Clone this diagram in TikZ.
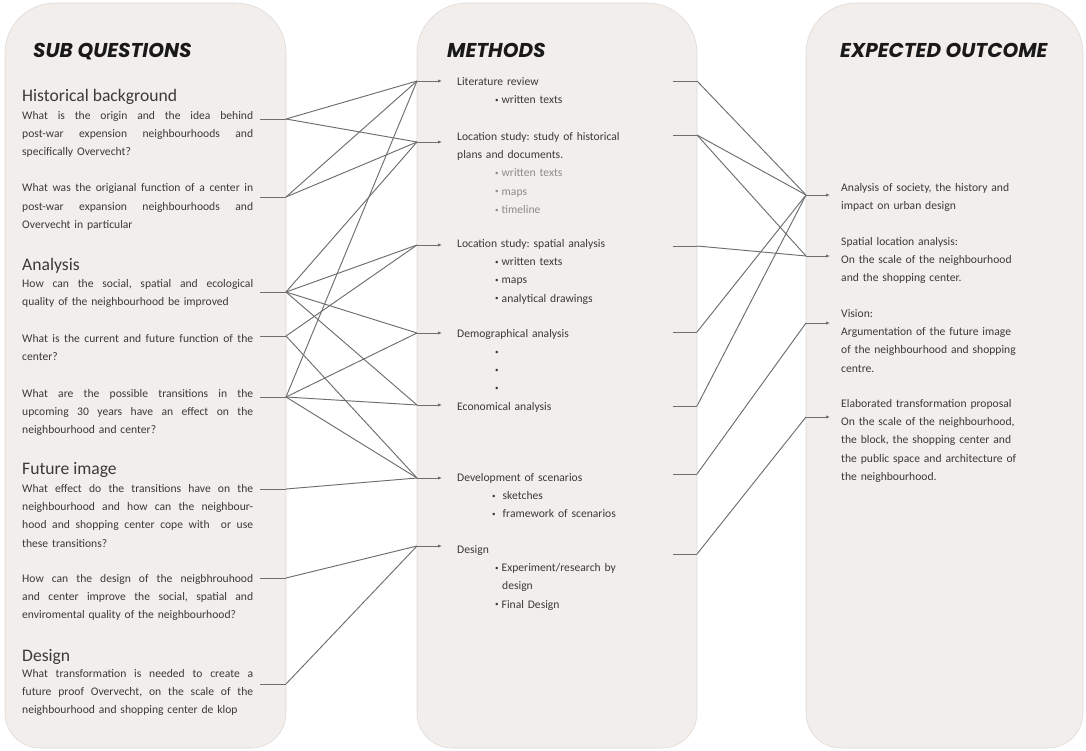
\documentclass[tikz,border=0pt]{standalone}
\usepackage{fontspec}
\setmainfont{Carlito}
\newfontfamily\headfont{Poppins}
\usetikzlibrary{arrows.meta}

\definecolor{panelgrey}{RGB}{242,238,236}
\definecolor{edgegrey}{RGB}{222,218,216}
\definecolor{linegrey}{RGB}{110,110,110}
\definecolor{textgrey}{RGB}{58,58,58}
\definecolor{softgrey}{RGB}{140,140,140}
\definecolor{headgrey}{RGB}{25,25,25}

\newcommand{\dotb}{\raisebox{1.2pt}{\fontsize{7}{7}\selectfont\textbullet}}
\newcommand{\itm}[1]{\hspace*{38pt}\dotb\hspace{3pt}#1}
\newcommand{\jl}[1]{\makebox[231pt][s]{\spaceskip=0.3em plus 1fil\relax #1}\\}
\newcommand{\panel}[2]{\draw[panel] (#1,53) arc[start angle=180,end angle=270,radius=50] -- (#2-50,3)
  arc[start angle=270,end angle=360,radius=50] -- (#2,713)
  arc[start angle=0,end angle=90,radius=35] -- (#1+35,748)
  arc[start angle=90,end angle=180,radius=35] -- cycle;}

\begin{document}
\frenchspacing
\begin{tikzpicture}[x=1pt,y=-1pt]
\tikzstyle{panel}=[draw=edgegrey,fill=panelgrey,line width=0.6pt]
\tikzstyle{head}=[anchor=base west,inner sep=0,text=headgrey,font=\headfont\bfseries\itshape\fontsize{20}{22}\selectfont]
\tikzstyle{topic}=[anchor=base west,inner sep=0,text=textgrey,font=\fontsize{17.6}{19}\selectfont]
\tikzstyle{body}=[anchor=north west,inner sep=0,align=left,text=textgrey,font=\fontsize{11.6}{18.3}\selectfont\frenchspacing,execute at begin node={\noindent\strut}]
\tikzstyle{quest}=[body,text width=231pt]
\tikzstyle{meth}=[body,text width=225pt]
\tikzstyle{outc}=[body,text width=240pt]
\tikzstyle{link}=[draw=linegrey,line width=0.95pt]
\tikzstyle{arr}=[link,-{Latex[length=4pt,width=3.4pt]}]
\useasboundingbox (0,0) rectangle (1086,751);

\panel{5}{286}
\panel{417}{697}
\panel{806}{1083}

\node[head] (subq) at (33,58) {SUB QUESTIONS};
\node[head] (meths) at (447,58) {METHODS};
\node[head] (outcs) at (840,58) {EXPECTED OUTCOME};

% sub questions
\node[topic] (hist) at (22,101.5) {Historical background};
\node[quest] (q1t) at (22,106.2) {\jl{What is the origin and the idea behind}\jl{post-war expension neighbourhoods and}specifically Overvecht?};
\node[quest] (q2t) at (22,178.7) {\jl{What was the origianal function of a center in}\jl{post-war expansion neighbourhoods and}Overvecht in particular};
\node[topic] (anal) at (22,270.7) {Analysis};
\node[quest] (q3t) at (22,274.2) {\jl{How can the social, spatial and ecological}quality of the neighbourhood be improved};
\node[quest] (q4t) at (22,329.2) {\jl{What is the current and future function of the}center?};
\node[quest] (q5t) at (22,384.2) {\jl{What are the possible transitions in the}\jl{upcoming 30 years have an effect on the}neighbourhood and center?};
\node[topic] (fut) at (22,474) {Future image};
\node[quest] (q6t) at (22,479.2) {\jl{What effect do the transitions have on the}\jl{neighbourhood and how can the neighbour-}\jl{hood and shopping center cope with \ or use}these transitions?};
\node[quest] (q7t) at (22,569.2) {\jl{How can the design of the neigbhrouhood}\jl{and center improve the social, spatial and}enviromental quality of the neighbourhood?};
\node[topic] (des) at (22,661) {Design};
\node[quest] (q8t) at (22,664.2) {\jl{What transformation is needed to create a}\jl{future proof Overvecht, on the scale of the}neighbourhood and shopping center de klop};

% methods
\node[meth] (lit) at (457,72.2) {Literature review\\\itm{written texts}};
\node[meth] (hplan) at (457,127.2) {Location study: study of historical\\plans and documents.\\
  \textcolor{softgrey}{\itm{written texts}}\\\textcolor{softgrey}{\itm{maps}}\\\textcolor{softgrey}{\itm{timeline}}};
\node[meth] (spat) at (457,234.2) {Location study: spatial analysis\\\itm{written texts}\\\itm{maps}\\\itm{analytical drawings}};
\node[meth] (demo) at (457,324.2) {Demographical analysis\\\itm{}\\\itm{}\\\itm{}};
\node[meth] (econ) at (457,397.2) {Economical analysis};
\node[meth] (scen) at (457,468.2) {Development of scenarios\\\hspace*{35pt}\dotb\hspace{7pt}sketches\\\hspace*{35pt}\dotb\hspace{7pt}framework of scenarios};
\node[meth] (dsgn) at (457,540.2) {Design\\\itm{Experiment/research by}\\\hspace*{45pt}design\\\itm{Final Design}};

% expected outcome
\node[outc] (soc) at (841,178.2) {Analysis of society, the history and\\impact on urban design};
\node[outc] (loc) at (841,232.2) {Spatial location analysis:\\On the scale of the neighbourhood\\and the shopping center.};
\node[outc] (vis) at (841,304.2) {Vision:\\Argumentation of the future image\\of the neighbourhood and shopping\\centre.};
\node[outc] (prop) at (841,394.2) {Elaborated transformation proposal\\On the scale of the neighbourhood,\\the block, the shopping center and\\the public space and architecture of\\the neighbourhood.};

% connectors
\foreach \n/\y in {1/119,2/197,3/292,4/336,5/397,6/489,7/578,8/684}{
  \coordinate (qs\n) at (260,\y);
  \coordinate (q\n) at (286,\y);
  \draw[link] (qs\n) -- (q\n);
}
\foreach \n/\y/\z in {1/81/81,2/142/135,3/245/246,4/333/332,5/405/406,6/478/474,7/546/554}{
  \coordinate (mi\n) at (417,\y);
  \coordinate (ma\n) at (442,\y);
  \coordinate (mo\n) at (673,\z);
  \coordinate (mj\n) at (697,\z);
  \draw[arr] (mi\n) -- (ma\n);
  \draw[link] (mo\n) -- (mj\n);
}
\foreach \n/\y in {1/195,2/256,3/323,4/417}{
  \coordinate (r\n) at (806,\y);
  \coordinate (ra\n) at (830,\y);
  \draw[arr] (r\n) -- (ra\n);
}
\foreach \a/\b in {1/1,1/2,2/1,2/2,3/2,3/3,3/4,3/5,4/3,4/6,5/1,5/4,5/5,5/6,6/6,7/7,8/7}
  \draw[link] (q\a) -- (mi\b);
\foreach \a/\b in {1/1,2/1,2/2,3/2,4/1,5/1,6/3,7/4}
  \draw[link] (mj\a) -- (r\b);
\end{tikzpicture}
\end{document}
